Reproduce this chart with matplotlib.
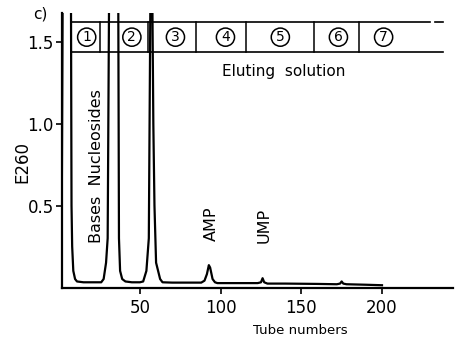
import matplotlib
matplotlib.use("Agg")
import matplotlib.pyplot as plt

# elution profile
tubes = [1, 1.6, 2.2, 7.2, 7.6, 8.0, 8.7, 9.8, 11, 15, 20, 26, 27.5, 29, 30, 31,
         36.5, 37, 37.7, 39, 41, 45, 50, 52, 54, 55.5, 56.5, 57.5, 58.3, 59,
         60, 62.5, 64, 70, 80, 88, 90, 91.5, 92.7, 93.5, 95, 96.5, 98, 105,
         115, 123, 125, 126, 127, 129, 140, 160, 172, 174, 175, 176, 178, 190, 200]
e260 = [0.03, 0.6, 2.0, 2.0, 0.5, 0.25, 0.1, 0.05, 0.035, 0.03, 0.03, 0.03, 0.05, 0.15, 0.3, 2.0,
        2.0, 0.3, 0.1, 0.05, 0.035, 0.03, 0.03, 0.035, 0.1, 0.3, 1.8, 2.0, 1.0, 0.5,
        0.15, 0.05, 0.03, 0.028, 0.028, 0.028, 0.04, 0.08, 0.135, 0.12, 0.05, 0.03, 0.025, 0.025,
        0.025, 0.025, 0.03, 0.055, 0.03, 0.022, 0.022, 0.02, 0.018, 0.022, 0.035, 0.022, 0.018, 0.015, 0.012]

# fraction boxes of the eluting solutions
box_edges = [7.5, 25, 55, 85, 116, 158, 186]
box_end = 238
box_labels = ["1", "2", "3", "4", "5", "6", "7"]
box_label_x = [17, 45, 72, 103, 137, 173, 201]

peak_names = ["Bases  Nucleosides", "AMP", "UMP"]
peak_name_x = [23, 94.5, 127]
peak_name_y = [0.74, 0.39, 0.38]

fig = plt.figure(figsize=(4.58, 3.38), dpi=100)
ax = fig.add_axes([62 / 458, 1 - 288 / 338, (453 - 62) / 458, (288 - 13) / 338])

ax.plot(tubes, e260, color="black", lw=1.6)

# box with the numbered solutions
btop, bbot = 1.625, 1.44
ax.plot([box_edges[0], box_end - 8], [btop, btop], color="black", lw=1.2, clip_on=False)
ax.plot([box_edges[0], box_end], [bbot, bbot], color="black", lw=1.2, clip_on=False)
ax.plot([box_end - 5, box_end], [btop, btop], color="black", lw=1.2, clip_on=False)
for xe in box_edges:
    ax.plot([xe, xe], [bbot, btop], color="black", lw=1.1, clip_on=False)
for lab, xl in zip(box_labels, box_label_x):
    ax.text(xl, 1.532, lab, ha="center", va="center", fontsize=10,
            bbox=dict(boxstyle="circle,pad=0.15", fc="white", ec="black", lw=1.1))
ax.text(139, 1.32, "Eluting  solution", ha="center", va="center", fontsize=11)

for name, xn, yn in zip(peak_names, peak_name_x, peak_name_y):
    ax.text(xn, yn, name, rotation=90, ha="center", va="center", fontsize=11.5)

ax.set_xlim(1.7, 244)
ax.set_ylim(-0.005, 1.68)
ax.set_xticks([50, 100, 150, 200])
ax.set_yticks([0.5, 1.0, 1.5])
ax.set_yticklabels(["0.5", "1.0", "1.5"])
ax.tick_params(labelsize=12, length=4, width=1.2, pad=2)
ax.tick_params(axis="x", pad=4)
for side in ["top", "right"]:
    ax.spines[side].set_visible(False)
for side in ["left", "bottom"]:
    ax.spines[side].set_linewidth(1.6)

fig.text(22 / 458, 1 - 162 / 338, "E260", rotation=90, ha="center", va="center", fontsize=12)
fig.text(300 / 458, 1 - 330 / 338, "Tube numbers", ha="center", va="center", fontsize=9.5)
fig.text(40 / 458, 1 - 14 / 338, "c)", ha="center", va="center", fontsize=11)

fig.savefig("out.png", dpi=100)
